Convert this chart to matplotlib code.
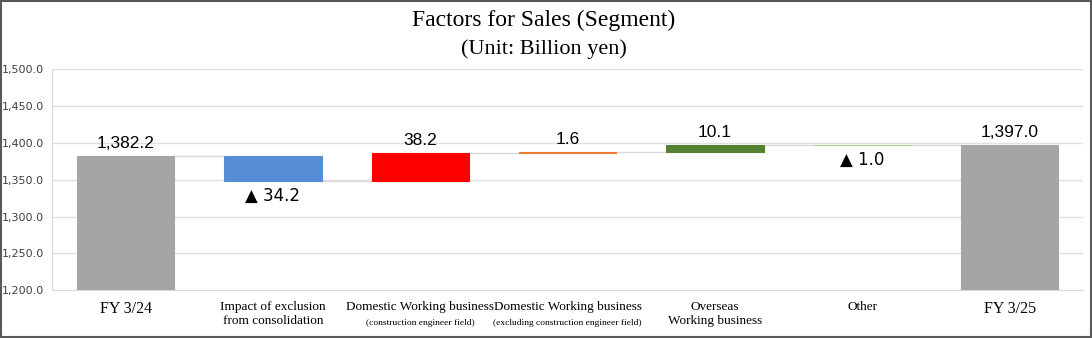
import matplotlib.pyplot as plt
from matplotlib.patches import Rectangle
import numpy as np

# sales bridge, billion yen
categories = ['FY 3/24', 'Impact of exclusion\nfrom consolidation',
              'Domestic Working business', 'Domestic Working business',
              'Overseas\nWorking business', 'Other', 'FY 3/25']
sub_labels = ['', '', '(construction engineer field)',
              '(excluding construction engineer field)', '', '', '']
start_total = 1382.2
changes = [-34.2, 38.2, 1.6, 10.1, -1.0]
end_total = 1397.0
colors = ['#A5A5A5', '#558ED5', '#FF0000', '#ED7D31', '#548235', '#A9D18E', '#A5A5A5']

ymin, ymax = 1200, 1500
label_font = ['Liberation Sans', 'DejaVu Sans']

fig = plt.figure(figsize=(10.92, 3.38), dpi=100, facecolor='white')
ax = fig.add_axes([0.0476, 0.142, 0.9444, 0.6524])

# build floating bars
bottoms = [ymin]
heights = [start_total - ymin]
level = start_total
for c in changes:
    lo = min(level, level + c)
    bottoms.append(lo)
    heights.append(abs(c))
    level += c
bottoms.append(ymin)
heights.append(end_total - ymin)

x = np.arange(len(categories))
width = 0.66
ax.bar(x, heights, bottom=bottoms, width=width, color=colors,
       edgecolor=colors, linewidth=0.8, zorder=3)

# connectors between bar ends
tops = [start_total]
level = start_total
for c in changes:
    level += c
    tops.append(level)
for i in range(len(categories) - 1):
    ax.plot([x[i] + width / 2, x[i + 1] - width / 2], [tops[i], tops[i]],
            color='#D9D9D9', linewidth=1.0, zorder=2)

# value labels; decreases carry a triangle mark
values = [start_total] + changes + [end_total]
for i, v in enumerate(values):
    if i == 0 or i == len(values) - 1:
        ax.annotate(f'{v:,.1f}', (x[i], bottoms[i] + heights[i]), xytext=(0, 3.5),
                    textcoords='offset points', ha='center', va='bottom',
                    fontsize=12.5, family=label_font)
    elif v >= 0:
        ax.annotate(f'{v:.1f}', (x[i], bottoms[i] + heights[i]), xytext=(0, 3.5),
                    textcoords='offset points', ha='center', va='bottom',
                    fontsize=12.5, family=label_font)
    else:
        ax.annotate(f'\u25B2 {abs(v):.1f}', (x[i], bottoms[i]), xytext=(0, -4),
                    textcoords='offset points', ha='center', va='top',
                    fontsize=12, family='DejaVu Sans')

# category labels under axis
for i, name in enumerate(categories):
    fs = 11.5 if name.startswith('FY') else 9.5
    ax.text(x[i], -0.05, name, transform=ax.get_xaxis_transform(),
            ha='center', va='top', fontsize=fs, fontfamily='Liberation Serif',
            linespacing=1.2)
    if sub_labels[i]:
        ax.text(x[i], -0.13, sub_labels[i], transform=ax.get_xaxis_transform(),
                ha='center', va='top', fontsize=6.8, fontfamily='Liberation Serif')

ax.set_xlim(-0.5, len(categories) - 0.5)
ax.set_ylim(ymin, ymax)
ax.set_yticks(np.arange(ymin, ymax + 1, 50))
ax.yaxis.set_major_formatter(plt.FuncFormatter(lambda v, p: f'{v:,.1f}'))
ax.set_xticks([])
ax.tick_params(axis='y', length=0, labelsize=8, colors='#404040', pad=6)
ax.grid(axis='y', color='#E0E0E0', linewidth=1.0, zorder=0)
for s in ['top', 'right']:
    ax.spines[s].set_visible(False)
ax.spines['left'].set_color('#D9D9D9')
ax.spines['bottom'].set_color('#D9D9D9')

fig.text(0.498, 0.94, 'Factors for Sales (Segment)', ha='center', va='center',
         fontsize=17, fontfamily='Liberation Serif')
fig.text(0.498, 0.855, '(Unit: Billion yen)', ha='center', va='center',
         fontsize=16, fontfamily='Liberation Serif')

# outer frame
fig.patches.append(Rectangle((0.001, 0.002), 0.998, 0.996, transform=fig.transFigure,
                             fill=False, edgecolor='#595959', linewidth=1.5))

fig.savefig('out.png', dpi=100, facecolor='white')
